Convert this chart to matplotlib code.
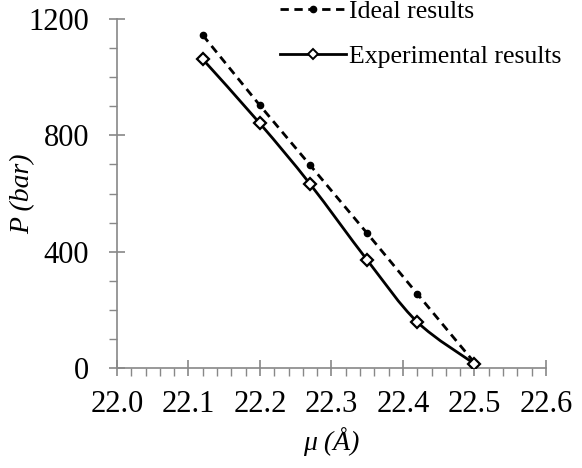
import numpy as np
import matplotlib.pyplot as plt
from matplotlib.path import Path
from matplotlib.patches import PathPatch
from matplotlib.ticker import MultipleLocator

plt.rcParams['font.family'] = ['Liberation Serif', 'DejaVu Serif']

mu = [22.12, 22.20, 22.27, 22.35, 22.42, 22.50]
p_ideal = [1145, 903, 698, 463, 255, 18]
p_exp = [1062, 841, 633, 371, 158, 14]


def smooth_path(x, y, t=0.5):
    # cardinal spline through the points, as bezier segments
    x = np.asarray(x, float)
    y = np.asarray(y, float)
    n = len(x)
    verts = [(x[0], y[0])]
    codes = [Path.MOVETO]
    for i in range(n - 1):
        i0 = max(i - 1, 0)
        i3 = min(i + 2, n - 1)
        c1 = (x[i] + (x[i + 1] - x[i0]) * t / 3, y[i] + (y[i + 1] - y[i0]) * t / 3)
        c2 = (x[i + 1] - (x[i3] - x[i]) * t / 3, y[i + 1] - (y[i3] - y[i]) * t / 3)
        verts += [c1, c2, (x[i + 1], y[i + 1])]
        codes += [Path.CURVE4] * 3
    return Path(verts, codes)


fig = plt.figure(figsize=(5.82, 4.68), dpi=100)
ax = fig.add_axes([0.201, 0.214, 0.737, 0.745])

ax.plot(mu, p_ideal, color='black', ls=(0, (3, 2)), lw=2, marker='o', ms=4.5,
        label='Ideal results', zorder=3)
ax.add_patch(PathPatch(smooth_path(mu, p_exp), fill=False, lw=2, ec='black', zorder=3))
ax.plot(mu, p_exp, ls='none', marker='D', ms=6.5, mfc='white', mec='black', mew=1.6, zorder=4)
# proxy for the legend entry
ax.plot([], [], color='black', lw=2, marker='D', ms=5.5, mfc='white', mec='black',
        mew=1.4, label='Experimental results')

ax.set_xlim(22.0, 22.6)
ax.set_ylim(0, 1200)
ax.xaxis.set_minor_locator(MultipleLocator(0.02))
ax.yaxis.set_major_locator(MultipleLocator(400))
ax.yaxis.set_minor_locator(MultipleLocator(100))
ax.set_xticks(np.arange(22.0, 22.61, 0.1))
ax.set_xticklabels(['22.0', '22.1', '22.2', '22.3', '22.4', '22.5', '22.6'])

for s in ['top', 'right']:
    ax.spines[s].set_visible(False)
for s in ['left', 'bottom']:
    ax.spines[s].set_color('#888888')
    ax.spines[s].set_linewidth(1.2)

ax.tick_params(which='major', direction='inout', length=12, width=1.2, color='#888888',
               labelsize=22)
ax.tick_params(axis='x', which='major', pad=10)
ax.tick_params(axis='y', which='major', pad=14)
ax.tick_params(which='minor', direction='out', length=6, width=1.0, color='#888888')

ax.set_xlabel('μ (Å)', fontsize=20, fontstyle='italic')
ax.set_ylabel('P (bar)', fontsize=20, fontstyle='italic')
ax.xaxis.set_label_coords(0.5, -0.17)
ax.yaxis.set_label_coords(-0.19, 0.5)

ax.legend(loc='upper left', bbox_to_anchor=(0.355, 1.085), frameon=False, fontsize=18.5,
          handlelength=2.6, handletextpad=0.1, labelspacing=0.85, borderaxespad=0)

fig.savefig('out.png', dpi=100)
